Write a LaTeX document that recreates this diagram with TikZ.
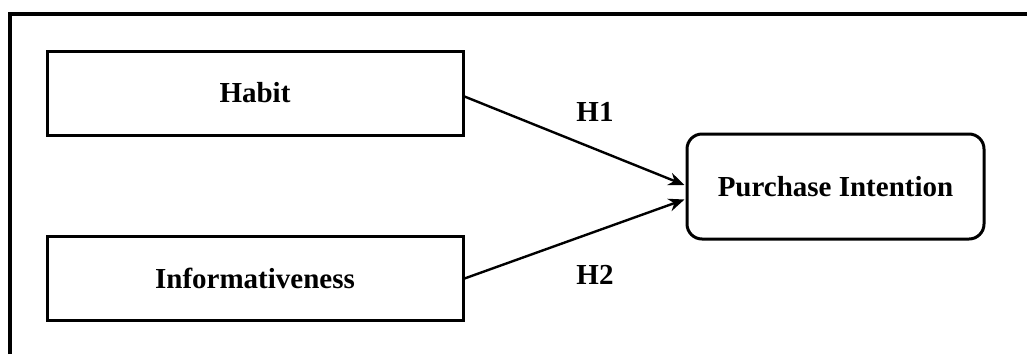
\documentclass[tikz,border=0pt]{standalone}
\usepackage{fontspec}
\setmainfont{Liberation Serif}
\usetikzlibrary{arrows.meta,calc}
\begin{document}
\begin{tikzpicture}[x=1pt,y=-1pt,
  box/.style={draw,line width=3pt,minimum width=416pt,minimum height=84pt,inner sep=0pt,font=\fontsize{29}{32}\selectfont\bfseries},
  outbox/.style={draw,line width=3pt,rounded corners=15pt,minimum width=297pt,minimum height=105pt,inner sep=0pt,font=\fontsize{29}{32}\selectfont\bfseries},
  conn/.style={line width=2.4pt,-{Stealth[length=16pt,width=13pt]}},
  lab/.style={font=\fontsize{29}{32}\selectfont\bfseries,inner sep=0pt}]
\useasboundingbox (0,0) rectangle (1027,354);
\fill[white] (0,0) rectangle (1027,354);
\draw[line width=3.2pt] (10,354) -- (10,14) -- (1027,14);
\node[box] (habit) at (255,93) {Habit};
\node[box] (info) at (255,278.5) {Informativeness};
\node[outbox] (pi) at (835.5,186.5) {Purchase Intention};
\coordinate (hs) at ($(habit.east)+(0,3.5)$);
\coordinate (t1) at ($(pi.west)+(-1,-1.5)$);
\coordinate (t2) at ($(pi.west)+(-1,13)$);
\draw[conn] (hs) -- (t1);
\draw[conn] (info.east) -- (t2);
\node[lab] (h1) at (595,112) {H1};
\node[lab] (h2) at (595,275) {H2};
\end{tikzpicture}
\end{document}
